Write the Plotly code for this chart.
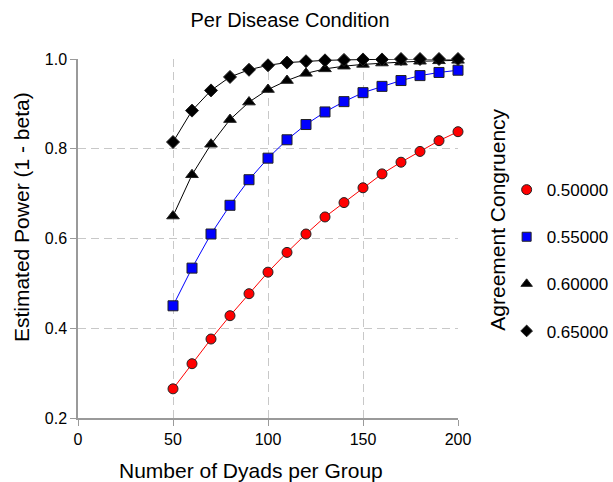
import plotly.graph_objects as go

n_dyads = [50, 60, 70, 80, 90, 100, 110, 120, 130, 140, 150, 160, 170, 180, 190, 200]

power_050 = [0.265, 0.321, 0.376, 0.428, 0.477, 0.525, 0.569, 0.610, 0.648, 0.680,
             0.713, 0.744, 0.770, 0.794, 0.818, 0.838]
power_055 = [0.450, 0.534, 0.610, 0.674, 0.731, 0.779, 0.820, 0.854, 0.882, 0.905,
             0.925, 0.939, 0.952, 0.963, 0.970, 0.975]
power_060 = [0.650, 0.742, 0.810, 0.865, 0.904, 0.932, 0.952, 0.968, 0.978, 0.984,
             0.988, 0.991, 0.993, 0.995, 0.996, 0.997]
power_065 = [0.815, 0.885, 0.930, 0.960, 0.976, 0.986, 0.992, 0.995, 0.997, 0.998,
             0.999, 0.999, 1.000, 1.000, 1.000, 1.000]

series_names = ["0.50000", "0.55000", "0.60000", "0.65000"]
x_ticks = [0, 50, 100, 150, 200]
y_ticks = [0.2, 0.4, 0.6, 0.8, 1.0]

FONT = "Arial, Liberation Sans, sans-serif"

styles = [
    dict(color="#ff0000", symbol="circle", size=10, lsize=10),
    dict(color="#0000ff", symbol="square", size=10, lsize=9),
    dict(color="#000000", symbol="triangle-up", size=11, lsize=10),
    dict(color="#000000", symbol="diamond", size=10, lsize=9),
]

fig = go.Figure()
all_series = [power_050, power_055, power_060, power_065]
for i, (name, ys, st) in enumerate(zip(series_names, all_series, styles)):
    fig.add_trace(go.Scatter(
        x=n_dyads, y=ys, name=name, mode="lines+markers", showlegend=False,
        line=dict(color=st["color"], width=1),
        marker=dict(symbol=st["symbol"], size=st["size"], color=st["color"],
                    line=dict(color="#222222", width=1)),
        cliponaxis=False,
    ))
# marker-only legend entries
for i, (name, st) in enumerate(zip(series_names, styles)):
    fig.add_trace(go.Scatter(
        x=[None], y=[None], name=name, mode="markers", legendgroup=f"g{i}",
        marker=dict(symbol=st["symbol"], size=st["lsize"], color=st["color"],
                    line=dict(color="#222222", width=1)),
    ))

axis_common = dict(
    showline=True, linecolor="#9a9a9a", linewidth=1.5,
    ticks="outside", ticklen=6, tickcolor="#9a9a9a", tickwidth=1,
    showgrid=True, gridcolor="#c8c8c8", griddash="8px,5px", gridwidth=1,
    zeroline=False, tickfont=dict(family=FONT, size=16, color="#000000"),
)

W, H = 613, 482
L, R, T, B = 78, 155, 59, 64

fig.update_layout(
    width=W, height=H,
    margin=dict(l=L, r=R, t=T, b=B, autoexpand=False),
    plot_bgcolor="white", paper_bgcolor="white",
    font=dict(family=FONT, color="#000000"),
    title=dict(text="Per Disease Condition", xref="paper", x=0.558,
               xanchor="center", yref="container", y=0.9585, yanchor="middle",
               font=dict(family=FONT, size=20, color="#000000")),
    xaxis=dict(range=[0, 200], tickvals=x_ticks, **axis_common),
    yaxis=dict(range=[0.2, 1.0], tickvals=y_ticks, tickformat=".1f", **axis_common),
    showlegend=True,
    legend=dict(x=1.128, xanchor="left", y=0.685, yanchor="top",
                traceorder="grouped", tracegroupgap=22,
                font=dict(family=FONT, size=17, color="#000000"),
                bgcolor="rgba(0,0,0,0)"),
    annotations=[
        dict(text="Number of Dyads per Group", xref="paper", yref="paper",
             x=0.455, y=-0.145, xanchor="center", yanchor="middle", showarrow=False,
             font=dict(family=FONT, size=21, color="#000000")),
        dict(text="Estimated Power (1 - beta)", xref="paper", yref="paper",
             x=-0.147, y=0.56, xanchor="center", yanchor="middle", showarrow=False,
             textangle=-90, font=dict(family=FONT, size=21, color="#000000")),
        dict(text="Agreement Congruency", xref="paper", yref="paper",
             x=1.105, y=0.552, xanchor="center", yanchor="middle", showarrow=False,
             textangle=-90, font=dict(family=FONT, size=21, color="#000000")),
    ],
)

fig.write_html(
    "out.html",
    config={"displayModeBar": False},
    post_script="document.body.style.margin='0';"
                "document.documentElement.style.overflow='hidden';"
                "document.body.style.overflow='hidden';",
)
